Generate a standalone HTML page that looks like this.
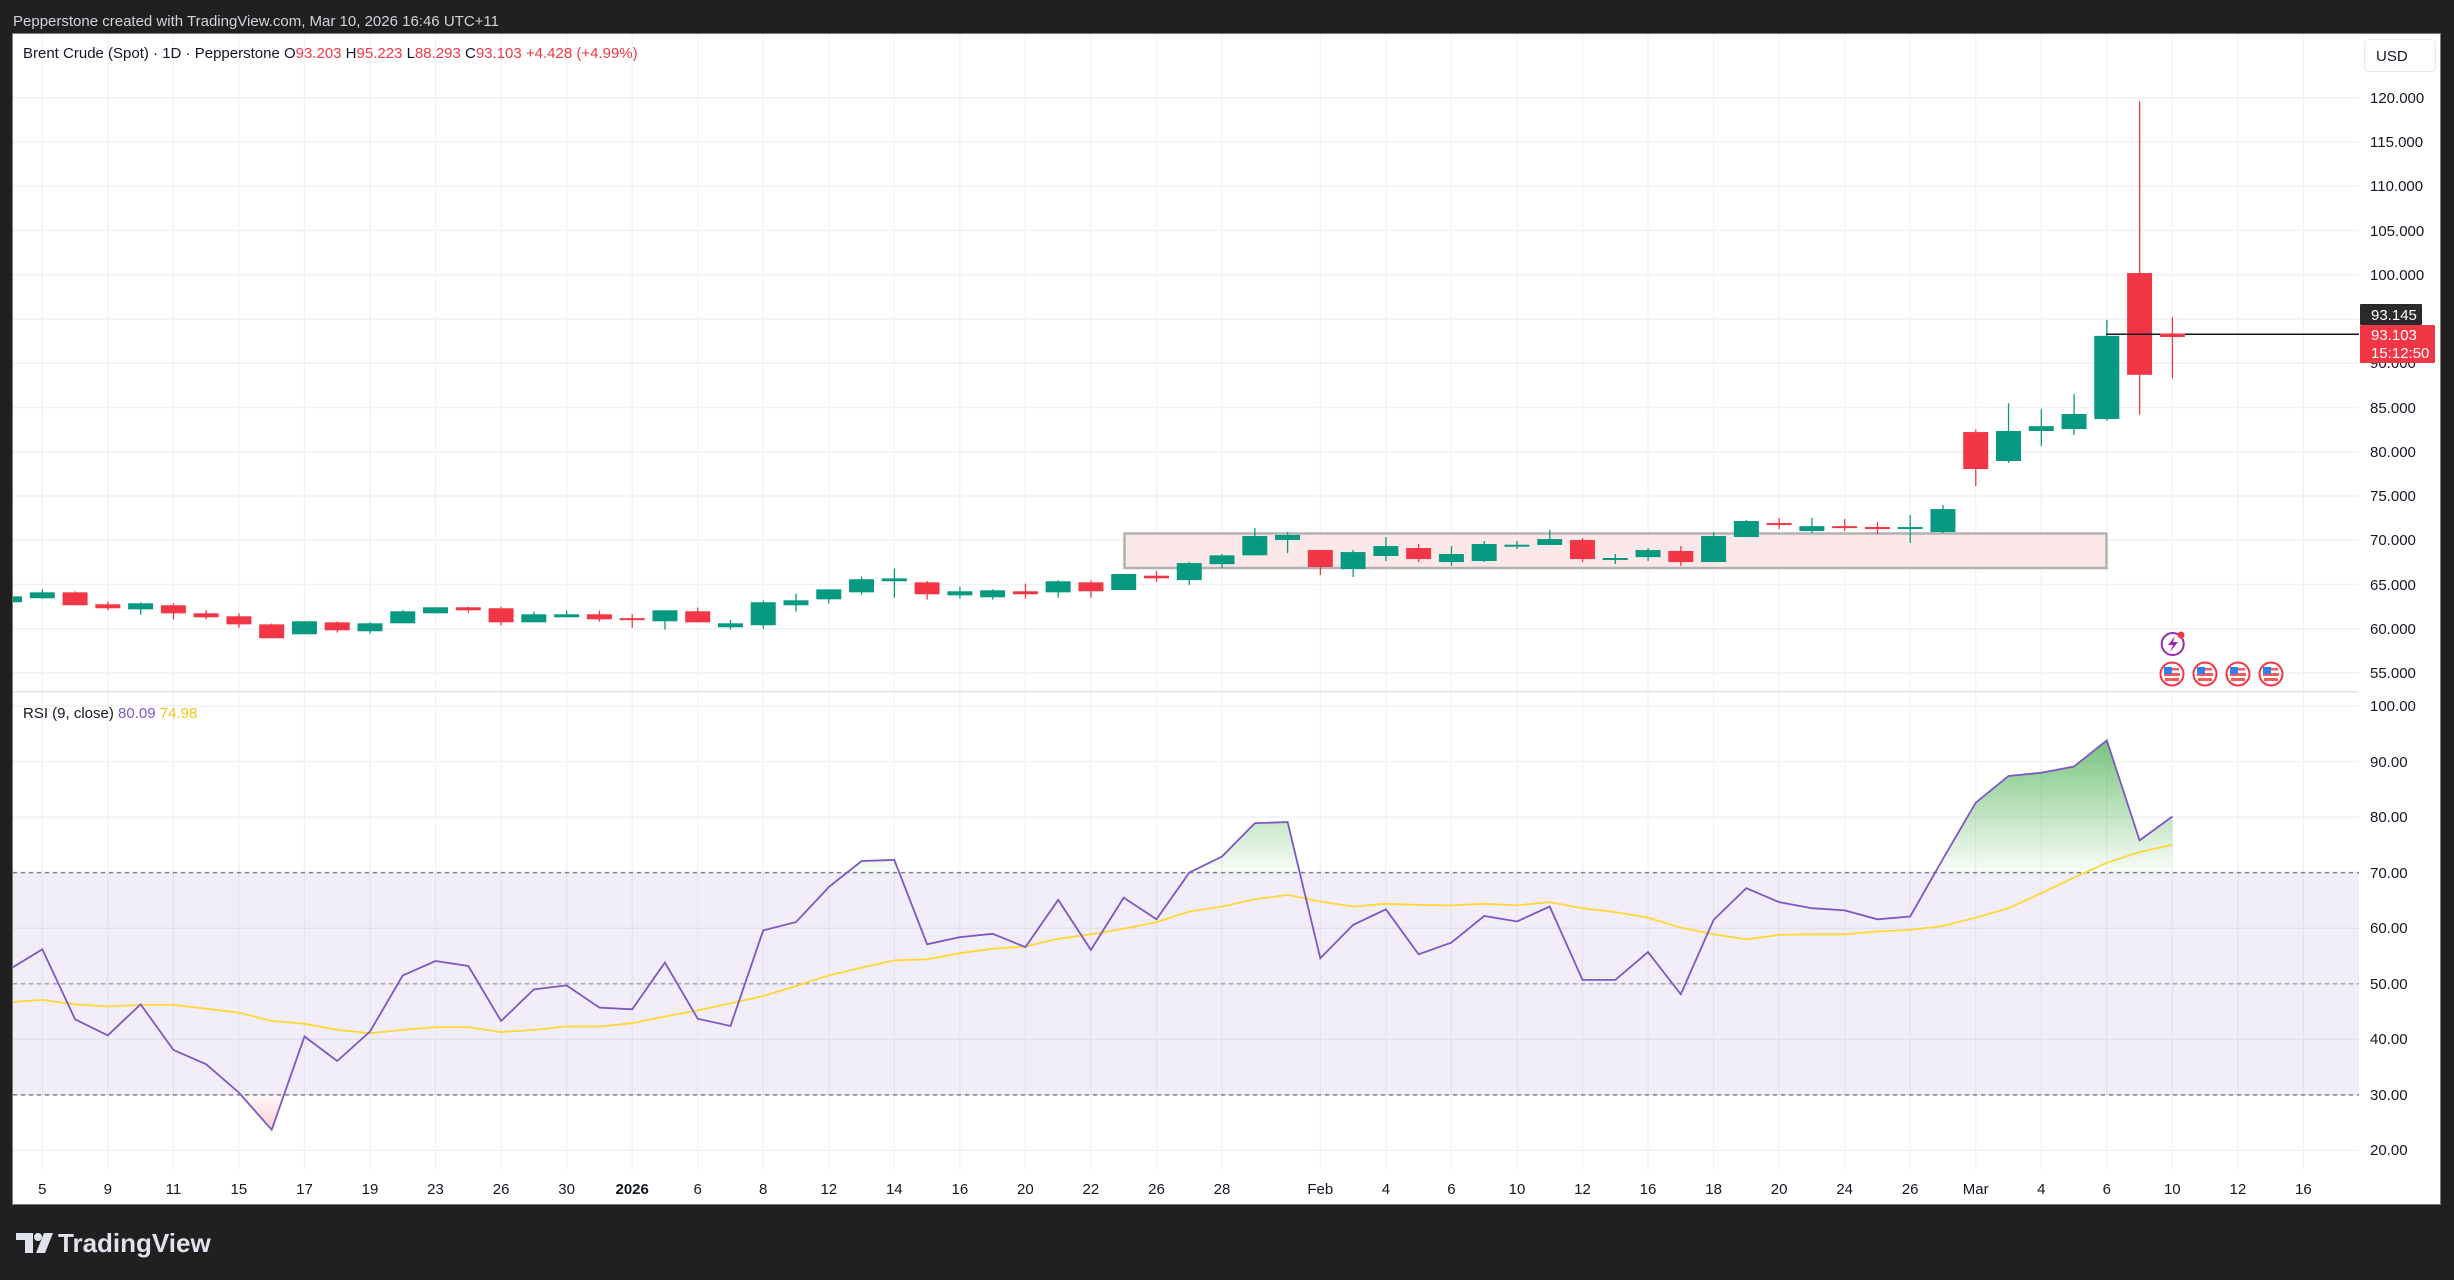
<!DOCTYPE html>
<html><head><meta charset="utf-8"><style>
html,body{margin:0;padding:0;background:#202020;width:2454px;height:1280px;overflow:hidden}
svg{display:block}
text{font-family:"Liberation Sans",sans-serif}
</style></head><body>
<svg id="s" width="2454" height="1280" xmlns="http://www.w3.org/2000/svg">
<defs>
<clipPath id="cp"><rect x="13" y="34" width="2346" height="657"/></clipPath>
<clipPath id="cr"><rect x="13" y="693" width="2346" height="477"/></clipPath>
<clipPath id="above70"><rect x="13" y="693" width="2346" height="179.7"/></clipPath>
<clipPath id="below30"><rect x="13" y="1094.9" width="2346" height="75"/></clipPath>
<linearGradient id="gg" gradientUnits="userSpaceOnUse" x1="0" y1="740" x2="0" y2="872.7">
<stop offset="0" stop-color="#4caf50" stop-opacity="0.75"/><stop offset="1" stop-color="#4caf50" stop-opacity="0.03"/></linearGradient>
<linearGradient id="rg" gradientUnits="userSpaceOnUse" x1="0" y1="1094.9" x2="0" y2="1140">
<stop offset="0" stop-color="#f23645" stop-opacity="0.03"/><stop offset="1" stop-color="#f23645" stop-opacity="0.3"/></linearGradient>
</defs>
<text x="13" y="26" font-size="15" fill="#d1d4dc">Pepperstone created with TradingView.com, Mar 10, 2026 16:46 UTC+11</text>
<rect x="12.5" y="33.5" width="2428" height="1171" fill="#ffffff" stroke="#7a7a7a" stroke-width="1"/>
<g id="grid"></g>
<rect x="13" y="691" width="2346" height="1.5" fill="#e0e3eb"/>
<rect x="1124.5" y="533.5" width="982" height="34.5" fill="#fde8e9" stroke="#b2b2b2" stroke-width="2.5"/>
<g id="candles" clip-path="url(#cp)"></g>
<line x1="2106" y1="334.3" x2="2359" y2="334.3" stroke="#131722" stroke-width="1.5"/>
<line x1="2160" y1="334.3" x2="2185" y2="334.3" stroke="#f23645" stroke-width="1.5"/>
<g id="rsi"></g>
<!-- icons -->
<circle cx="2172.7" cy="644" r="11" fill="#fff" stroke="#9c27b0" stroke-width="2"/>
<path d="M2175 636 L2168 645 L2173 645 L2170 652 L2178 642 L2173 642 Z" fill="#9c27b0"/>
<circle cx="2181" cy="635" r="3.5" fill="#f23645"/>
<g id="flags"></g>
<!-- price axis labels -->
<g font-size="15" fill="#131722">
<text x="2370" y="103">120.000</text>
<text x="2370" y="147">115.000</text>
<text x="2370" y="191">110.000</text>
<text x="2370" y="236">105.000</text>
<text x="2370" y="280">100.000</text>
<text x="2370" y="368">90.000</text>
<text x="2370" y="413">85.000</text>
<text x="2370" y="457">80.000</text>
<text x="2370" y="501">75.000</text>
<text x="2370" y="545">70.000</text>
<text x="2370" y="590">65.000</text>
<text x="2370" y="634">60.000</text>
<text x="2370" y="678">55.000</text>
</g>
<rect x="2360" y="304" width="62" height="21" fill="#2a2a2a" rx="1"/>
<text x="2371" y="320" font-size="15" fill="#ffffff">93.145</text>
<rect x="2360" y="325" width="75" height="38" fill="#f23645" rx="1"/>
<text x="2371" y="340" font-size="15" fill="#ffffff">93.103</text>
<text x="2371" y="358" font-size="15" fill="#ffffff">15:12:50</text>
<rect x="2364.5" y="39.5" width="71" height="32" rx="4" fill="#fff" stroke="#e8e8e8"/>
<text x="2376" y="61" font-size="15" fill="#131722">USD</text>
<!-- RSI axis -->
<g font-size="15" fill="#131722">
<text x="2370" y="711">100.00</text>
<text x="2370" y="767">90.00</text>
<text x="2370" y="822">80.00</text>
<text x="2370" y="878">70.00</text>
<text x="2370" y="933">60.00</text>
<text x="2370" y="989">50.00</text>
<text x="2370" y="1044">40.00</text>
<text x="2370" y="1100">30.00</text>
<text x="2370" y="1155">20.00</text>
</g>
<!-- legends -->
<text x="23" y="58" font-size="15" fill="#131722">Brent Crude (Spot) · 1D · Pepperstone  O<tspan fill="#f23645">93.203</tspan>  H<tspan fill="#f23645">95.223</tspan>  L<tspan fill="#f23645">88.293</tspan>  C<tspan fill="#f23645">93.103</tspan>  <tspan fill="#f23645">+4.428 (+4.99%)</tspan></text>
<text x="23" y="718" font-size="15" fill="#131722">RSI (9, close)  <tspan fill="#7e57c2">80.09</tspan>  <tspan fill="#f5c518">74.98</tspan></text>
<!-- x axis -->
<g font-size="15" fill="#131722" text-anchor="middle">
<text x="42.3" y="1194">5</text><text x="107.8" y="1194">9</text><text x="173.4" y="1194">11</text><text x="238.9" y="1194">15</text>
<text x="304.5" y="1194">17</text><text x="370" y="1194">19</text><text x="435.5" y="1194">23</text><text x="501.1" y="1194">26</text>
<text x="566.6" y="1194">30</text><text x="632.2" y="1194" font-weight="bold">2026</text><text x="697.7" y="1194">6</text><text x="763.2" y="1194">8</text>
<text x="828.8" y="1194">12</text><text x="894.3" y="1194">14</text><text x="959.9" y="1194">16</text><text x="1025.4" y="1194">20</text>
<text x="1090.9" y="1194">22</text><text x="1156.5" y="1194">26</text><text x="1222" y="1194">28</text><text x="1320.3" y="1194">Feb</text>
<text x="1385.9" y="1194">4</text><text x="1451.4" y="1194">6</text><text x="1517" y="1194">10</text><text x="1582.5" y="1194">12</text>
<text x="1648" y="1194">16</text><text x="1713.6" y="1194">18</text><text x="1779.1" y="1194">20</text><text x="1844.7" y="1194">24</text>
<text x="1910.2" y="1194">26</text><text x="1975.7" y="1194">Mar</text><text x="2041.3" y="1194">4</text><text x="2106.8" y="1194">6</text>
<text x="2172.3" y="1194">10</text><text x="2237.9" y="1194">12</text><text x="2303.4" y="1194">16</text>
</g>
<!-- footer logo -->
<g fill="#e0e3eb">
<path d="M16 1233 H33 V1253 H25 V1240 H16 Z"/>
<circle cx="38" cy="1237" r="4"/>
<path d="M44 1233 H53 L45 1253 H36 Z"/>
</g>
<text x="58" y="1252" font-size="26" font-weight="bold" fill="#e0e3eb">TradingView</text>
</svg>
<script>
const NS="http://www.w3.org/2000/svg";
function el(p,t,a){const e=document.createElementNS(NS,t);for(const k in a)e.setAttribute(k,a[k]);p.appendChild(e);return e;}
const X=i=>42.3+32.77*i, PY=p=>540.3+(70-p)*8.85, RY=r=>706+(100-r)*5.555;
const g=document.getElementById('grid');
for(let p=55;p<=120;p+=5) el(g,'line',{x1:13,x2:2359,y1:PY(p),y2:PY(p),stroke:'#f0f1f4','stroke-width':1.5});
for(let r=20;r<=100;r+=10) el(g,'line',{x1:13,x2:2359,y1:RY(r),y2:RY(r),stroke:'#f0f1f4','stroke-width':1.5});
const vi=[0,2,4,6,8,10,12,14,16,18,20,22,24,26,28,30,32,34,36,39,41,43,45,47,49,51,53,55,57,59,61,63,65,67,69];
vi.forEach(i=>{el(g,'line',{x1:X(i),x2:X(i),y1:34,y2:1170,stroke:'#f0f1f4','stroke-width':1.2});});
const C=[[63.0,63.7,62.9,63.67],[63.45,64.46,63.4,64.12],[64.12,64.24,62.66,62.66],[62.77,63.1,62.1,62.32],[62.2,63.0,61.6,62.88],[62.66,62.88,61.07,61.75],[61.75,62.1,61.07,61.3],[61.41,61.75,60.1,60.5],[60.5,60.6,58.93,58.93],[59.38,60.85,59.38,60.85],[60.73,60.85,59.57,59.83],[59.72,60.73,59.45,60.62],[60.62,62.09,60.62,61.98],[61.75,62.43,61.75,62.43],[62.43,62.5,61.83,62.09],[62.32,62.5,60.36,60.73],[60.73,61.94,60.73,61.64],[61.3,62.05,61.3,61.64],[61.64,62.05,60.8,61.07],[61.2,61.64,60.13,61.1],[60.85,62.05,59.9,62.09],[61.98,62.4,60.73,60.73],[60.17,61.0,59.9,60.62],[60.4,63.2,60.0,63.0],[62.66,63.98,61.94,63.22],[63.33,64.46,62.85,64.46],[64.12,65.9,63.86,65.6],[65.37,66.8,63.52,65.7],[65.25,65.4,63.3,63.9],[63.78,64.76,63.4,64.24],[63.56,64.46,63.3,64.35],[64.24,65.1,63.4,63.9],[64.12,65.48,63.52,65.37],[65.25,65.48,63.52,64.24],[64.38,66.19,64.38,66.19],[66.0,66.53,65.28,65.7],[65.5,67.54,64.95,67.43],[67.3,68.45,66.87,68.3],[68.3,71.39,68.3,70.48],[70.03,70.93,68.56,70.6],[68.9,68.9,66.08,66.98],[66.75,68.9,65.85,68.67],[68.22,70.37,67.66,69.35],[69.13,69.58,67.54,67.88],[67.54,69.35,67.09,68.45],[67.66,69.92,67.54,69.58],[69.35,69.92,69.0,69.5],[69.47,71.16,69.47,70.14],[70.03,70.26,67.54,67.88],[67.77,68.45,67.32,68.0],[68.1,69.13,67.66,68.9],[68.79,69.35,67.09,67.54],[67.54,70.93,67.54,70.48],[70.37,72.3,70.37,72.18],[71.95,72.52,71.27,71.73],[71.05,72.52,70.8,71.6],[71.6,72.4,71.05,71.5],[71.5,72.06,70.7,71.27],[71.4,72.85,69.7,71.5],[70.93,73.99,70.8,73.53],[82.23,82.5,76.13,78.05],[78.96,85.5,78.73,82.35],[82.35,84.8,80.65,82.9],[82.57,86.5,81.9,84.27],[83.7,94.9,83.5,93.1],[100.2,119.6,84.2,88.7],[93.2,95.2,88.3,93.1]];
const cg=document.getElementById('candles');
C.forEach((c,k)=>{const i=k-1,x=X(i),[o,h,l,cl]=c,up=cl>=o,col=up?'#089981':'#f23645';
el(cg,'rect',{x:x-0.6,width:1.3,y:PY(h),height:Math.max(1,PY(l)-PY(h)),fill:col});
const t=PY(Math.max(o,cl)),b=PY(Math.min(o,cl));
el(cg,'rect',{x:x-12.5,width:25,y:t,height:Math.max(2,b-t),fill:col});});
const R=[52.6,56.2,43.6,40.7,46.3,38.1,35.5,30.4,23.7,40.5,36.1,41.4,51.5,54.1,53.2,43.3,49.0,49.7,45.7,45.4,53.8,43.7,42.4,59.6,61.1,67.4,72.1,72.3,57.1,58.4,59.0,56.6,65.1,56.1,65.5,61.6,70.0,72.9,78.9,79.1,54.6,60.6,63.4,55.3,57.4,62.2,61.2,63.9,50.7,50.7,55.7,48.1,61.5,67.2,64.7,63.6,63.2,61.6,62.1,72.5,82.6,87.4,88.0,89.1,93.8,75.8,80.1];
const M=[46.7,47.1,46.3,45.9,46.2,46.2,45.5,44.8,43.3,42.8,41.7,41.1,41.7,42.2,42.2,41.3,41.7,42.3,42.3,42.9,44.1,45.2,46.5,47.8,49.6,51.5,52.9,54.2,54.4,55.5,56.3,56.7,58.1,58.9,59.9,61.1,63.0,63.9,65.2,66.0,64.8,63.9,64.4,64.2,64.1,64.4,64.1,64.7,63.6,62.9,61.9,60.1,58.9,58.0,58.8,58.9,58.9,59.4,59.7,60.4,61.9,63.6,66.3,69.1,71.8,73.7,75.0];
const rg=document.getElementById('rsi');
const rc=el(rg,'g',{'clip-path':'url(#cr)'});
el(rc,'rect',{x:13,width:2346,y:RY(70),height:RY(30)-RY(70),fill:'rgba(126,87,194,0.1)'});
const pts=R.map((r,k)=>X(k-1).toFixed(1)+','+RY(r).toFixed(1)).join(' ');
const x0=X(-1),x1=X(R.length-2);
const ga=el(rc,'g',{'clip-path':'url(#above70)'});
el(ga,'polygon',{points:x0+','+RY(70)+' '+pts+' '+x1+','+RY(70),fill:'url(#gg)'});
const gb=el(rc,'g',{'clip-path':'url(#below30)'});
el(gb,'polygon',{points:x0+','+RY(30)+' '+pts+' '+x1+','+RY(30),fill:'url(#rg)'});
[[70,'#787b86'],[50,'#a3a6af'],[30,'#787b86']].forEach(([v,c])=>el(rc,'line',{x1:13,x2:2359,y1:RY(v),y2:RY(v),stroke:c,'stroke-width':1.5,'stroke-dasharray':'4 4'}));
el(rc,'polyline',{points:M.map((r,k)=>X(k-1).toFixed(1)+','+RY(r).toFixed(1)).join(' '),fill:'none',stroke:'#fdd835','stroke-width':1.8});
el(rc,'polyline',{points:pts,fill:'none',stroke:'#7e57c2','stroke-width':1.8});
const fg=document.getElementById('flags');
[2172,2205,2238,2271].forEach(x=>{const y=674;
el(fg,'circle',{cx:x,cy:y,r:11.5,fill:'#fff',stroke:'#f23645','stroke-width':2});
el(fg,'rect',{x:x-8,y:y-1,width:16,height:3,fill:'#f25c5c'});
el(fg,'rect',{x:x-7,y:y+4,width:14,height:3,fill:'#f25c5c'});
el(fg,'rect',{x:x-8,y:y-7,width:8,height:7,fill:'#2f80ed'});
el(fg,'rect',{x:x,y:y-6,width:7,height:2.5,fill:'#f25c5c'});});
</script>
</body></html>
